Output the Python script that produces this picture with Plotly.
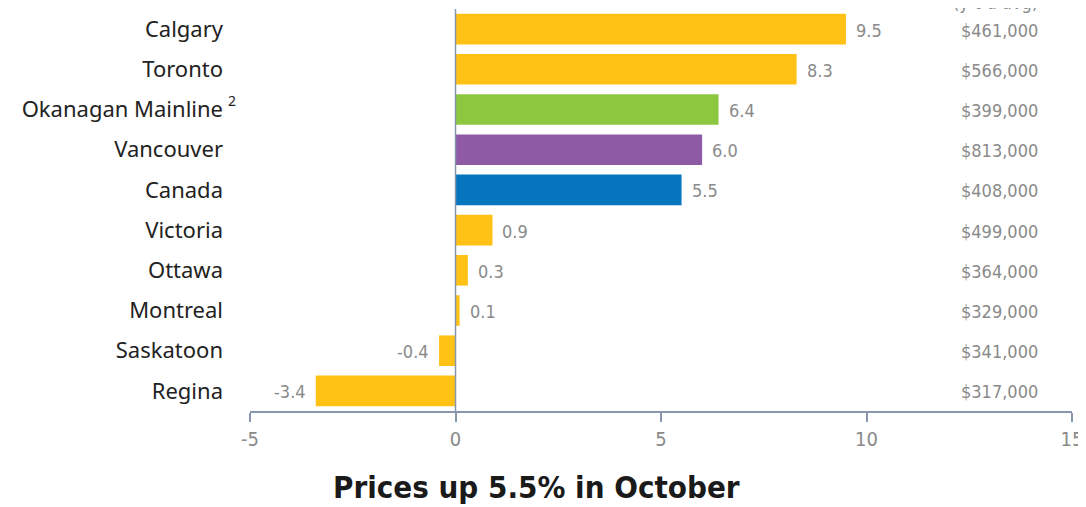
import plotly.graph_objects as go

cities = ["Calgary", "Toronto", "Okanagan Mainline", "Vancouver", "Canada",
          "Victoria", "Ottawa", "Montreal", "Saskatoon", "Regina"]
footnotes = {"Okanagan Mainline": "2"}
changes = [9.5, 8.3, 6.4, 6.0, 5.5, 0.9, 0.3, 0.1, -0.4, -3.4]
prices = ["$461,000", "$566,000", "$399,000", "$813,000", "$408,000",
          "$499,000", "$364,000", "$329,000", "$341,000", "$317,000"]
bar_colors = ["#FFC114", "#FFC114", "#8DC63F", "#8E59A5", "#0576BE",
              "#FFC114", "#FFC114", "#FFC114", "#FFC114", "#FFC114"]
x_ticks = [-5, 0, 5, 10, 15]
title = "Prices up 5.5% in October"

GREY = "#8a8a8a"
AXIS = "#8796ad"
COND = "DejaVu Sans Condensed"

fig = go.Figure()
fig.add_trace(go.Bar(
    y=cities, x=changes, orientation="h",
    marker=dict(color=bar_colors, line=dict(width=0)),
    width=0.76,
))

for c, v in zip(cities, changes):
    fig.add_annotation(x=v, xref="x", y=c, yref="y", text=f"{v:.1f}",
                       xanchor="left" if v >= 0 else "right",
                       xshift=8 if v >= 0 else -8, yshift=-1, showarrow=False,
                       font=dict(color=GREY, size=18, family=COND))

for c, p in zip(cities, prices):
    fig.add_annotation(x=0.961, xref="paper", y=c, yref="y", text=p,
                       xanchor="right", showarrow=False, yshift=-1,
                       font=dict(color=GREY, size=18, family=COND))

for c, note in footnotes.items():
    fig.add_annotation(x=-0.0219, xref="paper", y=c, yref="y", text=note,
                       xanchor="center", showarrow=False, yshift=9,
                       font=dict(color="#222222", size=14, family="Noto Sans"))

fig.add_annotation(x=0.961, xref="paper", y=1.0, yref="paper", yshift=-6,
                   text="(y-t-d avg)", xanchor="right", yanchor="bottom", showarrow=False,
                   font=dict(color=GREY, size=18, family=COND))

fig.add_annotation(x=0.349, xref="paper", y=-0.189, yref="paper", text=f"<b>{title}</b>",
                   xanchor="center", yanchor="middle", showarrow=False,
                   font=dict(color="#1a1a1a", size=31, family=COND))

fig.add_shape(type="line", x0=0, x1=0, y0=0, y1=1, xref="x", yref="paper",
              line=dict(color=AXIS, width=1.5))

fig.update_layout(
    width=1078, height=499,
    margin=dict(l=242, r=14, t=1, b=96),
    paper_bgcolor="white", plot_bgcolor="white",
    showlegend=False,
    xaxis=dict(range=[-5, 15], tickvals=x_ticks, ticktext=[str(t) for t in x_ticks],
               showgrid=False, zeroline=False, showline=True, linecolor=AXIS, linewidth=1.5,
               ticks="outside", ticklen=9, tickcolor=AXIS, tickwidth=1.5,
               tickfont=dict(color=GREY, size=20, family=COND),
               automargin=False, fixedrange=True),
    yaxis=dict(categoryorder="array", categoryarray=cities[::-1], autorange=False,
               range=[-0.5, 9.5],
               showgrid=False, zeroline=False, showline=False, ticks="",
               ticklabelstandoff=26, automargin=False,
               tickfont=dict(color="#222222", size=22, family="Noto Sans")),
)

fig.write_html("out.html")
